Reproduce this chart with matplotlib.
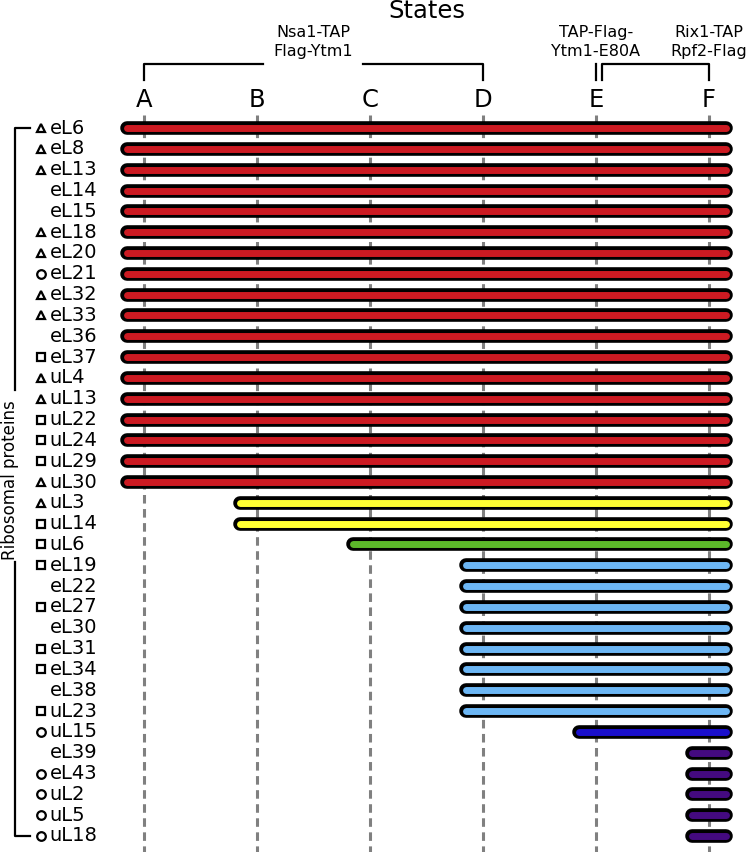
import matplotlib
matplotlib.use("Agg")
import matplotlib.pyplot as plt
import matplotlib.patheffects as pe

# States (columns)
states = ["A", "B", "C", "D", "E", "F"]

# Ribosomal proteins, top to bottom
proteins = ["eL6", "eL8", "eL13", "eL14", "eL15", "eL18", "eL20", "eL21",
            "eL32", "eL33", "eL36", "eL37", "uL4", "uL13", "uL22", "uL24",
            "uL29", "uL30", "uL3", "uL14", "uL6", "eL19", "eL22", "eL27",
            "eL30", "eL31", "eL34", "eL38", "uL23", "uL15", "eL39", "eL43",
            "uL2", "uL5", "uL18"]

# first state in which each protein is present (index into states)
first_state = [0] * 18 + [1, 1, 2] + [3] * 8 + [4] + [5] * 5

# marker in front of the name ('' = none)
markers = ["^", "^", "^", "", "", "^", "^", "o", "^", "^", "", "s", "^", "^",
           "s", "s", "s", "^", "^", "s", "s", "s", "", "s", "", "s", "s", "",
           "s", "o", "", "o", "o", "o", "o"]

state_colors = ["#cc1a22", "#ffff33", "#5cb82a", "#6cb6f4", "#1a0fcc", "#440a80"]

# purification brackets: (from state, to state, label, label x)
brackets = [(0, 3, "Nsa1-TAP\nFlag-Ytm1", 1.5),
            (4, 4, "TAP-Flag-\nYtm1-E80A", 4),
            (4.05, 5, "Rix1-TAP\nRpf2-Flag", 5)]

fig = plt.figure(figsize=(7.47, 8.52), dpi=100)
ax = fig.add_axes([0, 0, 1, 1])
ax.set_xlim(-1.274, 5.336)
ax.set_ylim(34.77, -6.15)
ax.axis("off")

n = len(proteins)

# dashed guide lines
for i, s in enumerate(states):
    ax.plot([i, i], [-0.62, 34.8], color="#808080", lw=2.2,
            ls=(0, (2.8, 1.8)), zorder=1)
    ax.text(i, -1.35, s, ha="center", va="center", fontsize=17.5)

# bars
for row, (st, name, mk) in enumerate(zip(first_state, proteins, markers)):
    ax.plot([st - 0.15, 5.15], [row, row], color=state_colors[st], lw=5.0,
            solid_capstyle="round", zorder=3,
            path_effects=[pe.Stroke(linewidth=9.8, foreground="black"),
                          pe.Normal()])
    ax.text(-0.835, row, name, ha="left", va="center", fontsize=14)
    if mk:
        ax.plot(-0.912, row, marker=mk, ms=6.2, mfc="white", mec="black",
                mew=1.6, ls="none")

# left bracket
ax.plot([-1.009, -1.142, -1.142], [0, 0, 12.6], color="black", lw=1.6)
ax.plot([-1.142, -1.142, -1.009], [20.85, n - 1, n - 1], color="black", lw=1.6)
ax.text(-1.186, 16.9, "Ribosomal proteins", rotation=90, ha="center",
        va="center", fontsize=12)

# top brackets
yb, yt = -3.07, -2.3
for x0, x1, label, lx in brackets:
    if x1 - x0 > 2:
        ax.plot([x0, x0, 1.053], [yt, yb, yb], color="black", lw=1.6)
        ax.plot([1.938, x1, x1], [yb, yb, yt], color="black", lw=1.6)
    elif x1 == x0:
        ax.plot([x0, x0], [yb, yt], color="black", lw=1.6)
    else:
        ax.plot([x0, x0, x1, x1], [yt, yb, yb, yt], color="black", lw=1.6)
    ax.text(lx, -4.12, label, ha="center", va="center", fontsize=11.5,
            linespacing=1.35)

ax.text(2.5, -5.6, "States", ha="center", va="center", fontsize=17.5)

fig.savefig("out.png", dpi=100)
